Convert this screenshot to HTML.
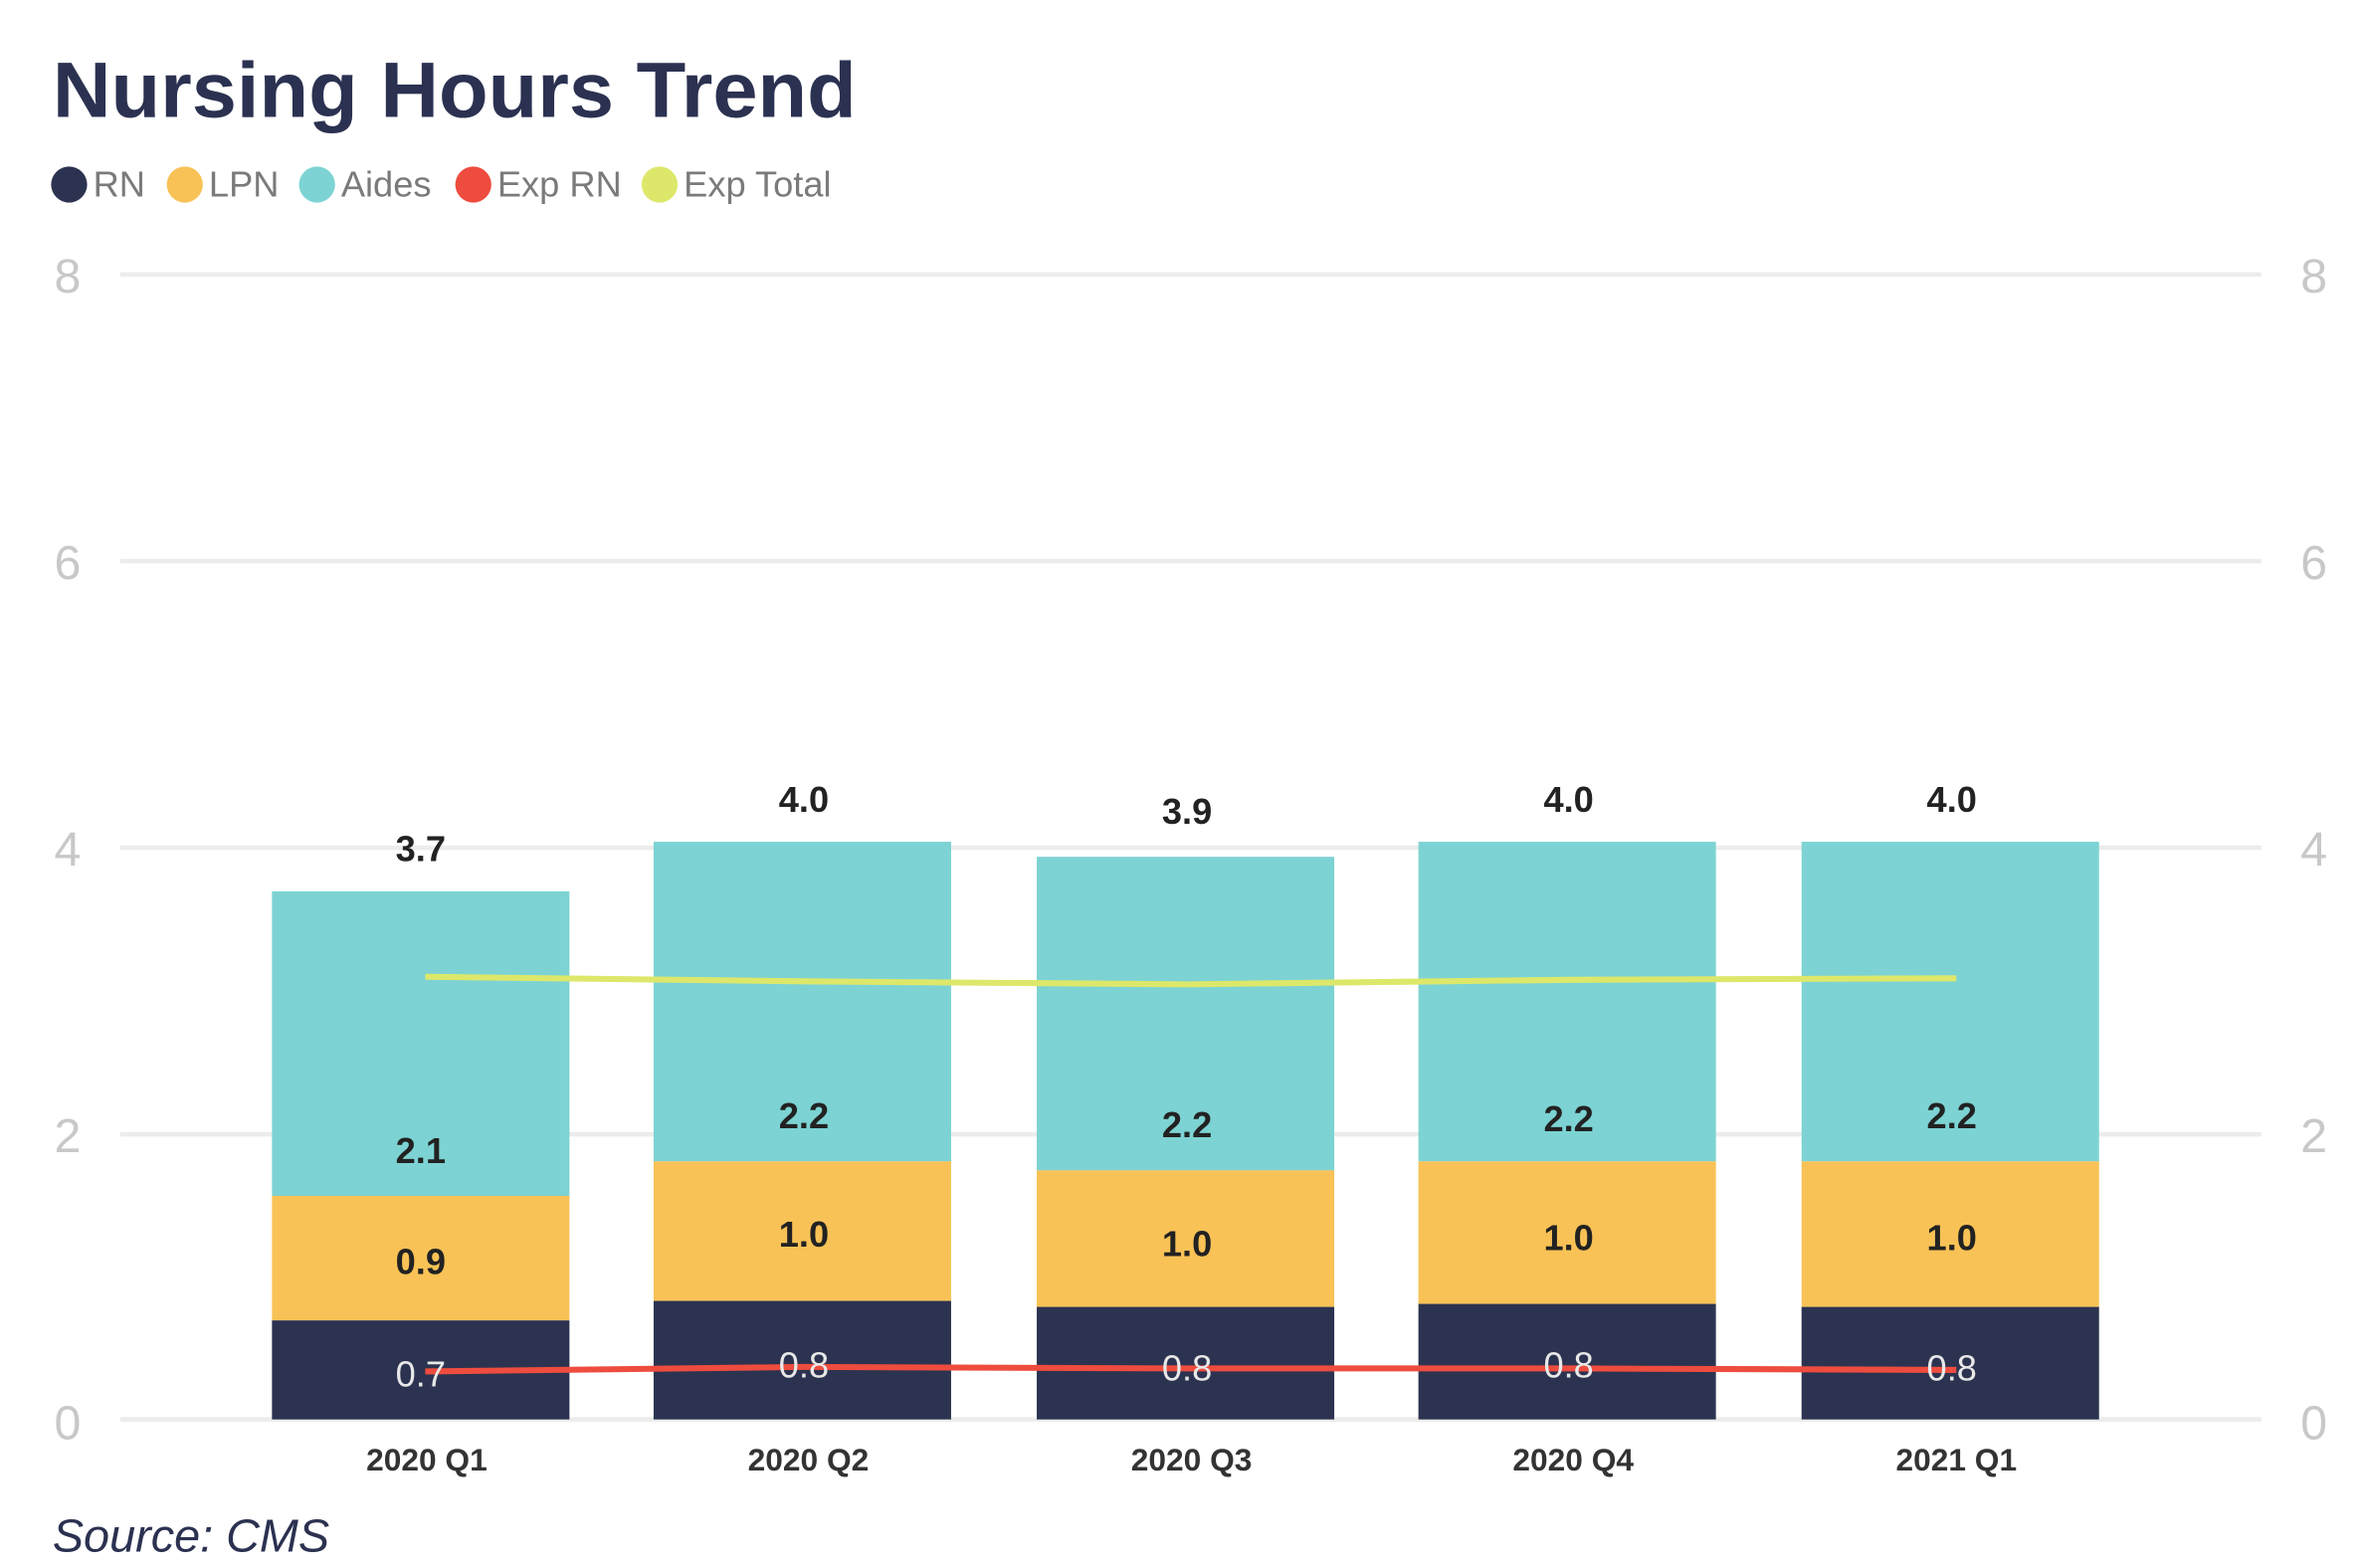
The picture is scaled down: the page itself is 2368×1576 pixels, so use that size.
<!DOCTYPE html>
<html><head><meta charset="utf-8"><style>
html,body{margin:0;padding:0;background:#fff;}
svg{display:block;}
</style></head><body>
<svg width="2368" height="1576" viewBox="0 0 1568 1045" preserveAspectRatio="none" xmlns="http://www.w3.org/2000/svg" font-family="Liberation Sans, sans-serif">
<text x="35" y="78" font-size="52" font-weight="bold" fill="#2b3150" textLength="535" lengthAdjust="spacingAndGlyphs">Nursing Hours Trend</text>
<g font-size="24" fill="#7a7a7a">
<circle cx="46" cy="123" r="12" fill="#2c3350"/><text x="62" y="131">RN</text>
<circle cx="123" cy="123" r="12" fill="#f8c256"/><text x="139" y="131">LPN</text>
<circle cx="211" cy="123" r="12" fill="#7dd3d3"/><text x="227" y="131">Aides</text>
<circle cx="315" cy="123" r="12" fill="#ee4c3e"/><text x="331" y="131">Exp RN</text>
<circle cx="439" cy="123" r="12" fill="#dde86a"/><text x="455" y="131">Exp Total</text>
</g>
<g stroke="#ececec" stroke-width="3">
<line x1="80" y1="183" x2="1505" y2="183"/><line x1="80" y1="374" x2="1505" y2="374"/>
<line x1="80" y1="565" x2="1505" y2="565"/><line x1="80" y1="756" x2="1505" y2="756"/>
<line x1="80" y1="946" x2="1505" y2="946"/>
</g>
<g font-size="32" fill="#c8c8c8" text-anchor="middle">
<text x="45" y="195">8</text><text x="45" y="386">6</text><text x="45" y="577">4</text><text x="45" y="768">2</text><text x="45" y="959">0</text>
<text x="1540" y="195">8</text><text x="1540" y="386">6</text><text x="1540" y="577">4</text><text x="1540" y="768">2</text><text x="1540" y="959">0</text>
</g>
<g>
<rect x="181" y="594" width="198" height="203" fill="#7dd3d3"/><rect x="181" y="797" width="198" height="83" fill="#f8c256"/><rect x="181" y="880" width="198" height="66" fill="#2c3350"/>
<rect x="435" y="561" width="198" height="213" fill="#7dd3d3"/><rect x="435" y="774" width="198" height="93" fill="#f8c256"/><rect x="435" y="867" width="198" height="79" fill="#2c3350"/>
<rect x="690" y="571" width="198" height="209" fill="#7dd3d3"/><rect x="690" y="780" width="198" height="91" fill="#f8c256"/><rect x="690" y="871" width="198" height="75" fill="#2c3350"/>
<rect x="944" y="561" width="198" height="213" fill="#7dd3d3"/><rect x="944" y="774" width="198" height="95" fill="#f8c256"/><rect x="944" y="869" width="198" height="77" fill="#2c3350"/>
<rect x="1199" y="561" width="198" height="213" fill="#7dd3d3"/><rect x="1199" y="774" width="198" height="97" fill="#f8c256"/><rect x="1199" y="871" width="198" height="75" fill="#2c3350"/>
</g>
<polyline points="283,651 535,654 790,656 1044,653 1302,652" fill="none" stroke="#dde86a" stroke-width="4"/>
<polyline points="283,914 535,911 790,912 1044,912 1302,913" fill="none" stroke="#ee4c3e" stroke-width="4"/>
<g font-size="24" text-anchor="middle" fill="#222" font-weight="bold">
<text x="280" y="574">3.7</text><text x="535" y="541">4.0</text><text x="790" y="549">3.9</text><text x="1044" y="541">4.0</text><text x="1299" y="541">4.0</text>
<text x="280" y="775">2.1</text><text x="535" y="752">2.2</text><text x="790" y="758">2.2</text><text x="1044" y="754">2.2</text><text x="1299" y="752">2.2</text>
<text x="280" y="849">0.9</text><text x="535" y="831">1.0</text><text x="790" y="837">1.0</text><text x="1044" y="833">1.0</text><text x="1299" y="833">1.0</text>
</g>
<g font-size="24" text-anchor="middle" fill="#e8e8e8">
<text x="280" y="924">0.7</text><text x="535" y="918">0.8</text><text x="790" y="920">0.8</text><text x="1044" y="918">0.8</text><text x="1299" y="920">0.8</text>
</g>
<g font-size="21" text-anchor="middle" fill="#333" font-weight="bold">
<text x="284" y="980">2020 Q1</text><text x="538" y="980">2020 Q2</text><text x="793" y="980">2020 Q3</text><text x="1047" y="980">2020 Q4</text><text x="1302" y="980">2021 Q1</text>
</g>
<text x="35" y="1034" font-size="31" font-style="italic" fill="#2b3150">Source: CMS</text>
</svg>
</body></html>
